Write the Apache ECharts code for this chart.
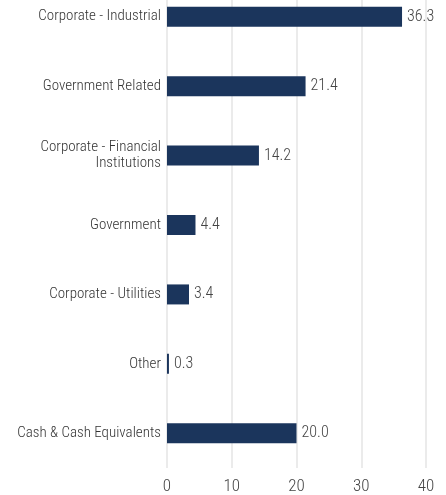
<!DOCTYPE html>
<html><head><meta charset="utf-8">
<script src="https://cdn.jsdelivr.net/npm/echarts@6/dist/echarts.min.js"></script>
<style>html,body{margin:0;padding:0;background:#fff;overflow:hidden}#c{position:absolute;left:0;top:-18px;width:446px;height:513px}</style>
</head><body><div id="c"></div>
<script>
var categories = ["Corporate - Industrial","Government Related","Corporate - Financial\nInstitutions","Government","Corporate - Utilities","Other","Cash & Cash Equivalents"];
var values = [36.3, 21.4, 14.2, 4.4, 3.4, 0.3, 20.0];
var FONT = "'Roboto Condensed','Liberation Sans Narrow','DejaVu Sans Condensed',sans-serif";
var chart = echarts.init(document.getElementById('c'));
chart.setOption({
  animation:false,
  grid:{left:167,right:20,top:0,bottom:27,containLabel:false},
  xAxis:{type:'value',min:0,max:40,interval:10,
    axisLine:{show:false},axisTick:{show:false},
    splitLine:{lineStyle:{color:'#ebebeb',width:2}},
    axisLabel:{fontFamily:FONT,fontSize:17,fontWeight:300,color:'#444',margin:10}},
  yAxis:{type:'category',data:categories,inverse:true,
    axisLine:{show:false},axisTick:{show:false},
    axisLabel:{fontFamily:FONT,fontSize:15,fontWeight:300,color:'#333',margin:6,lineHeight:16,align:'right'}},
  series:[{type:'bar',data:values,barWidth:20,itemStyle:{color:'#1b355c'},
    label:{show:true,position:'right',distance:5,fontFamily:FONT,fontSize:16,fontWeight:300,color:'#444',
      formatter:function(p){return p.value.toFixed(1);}}}]
});
</script></body></html>
